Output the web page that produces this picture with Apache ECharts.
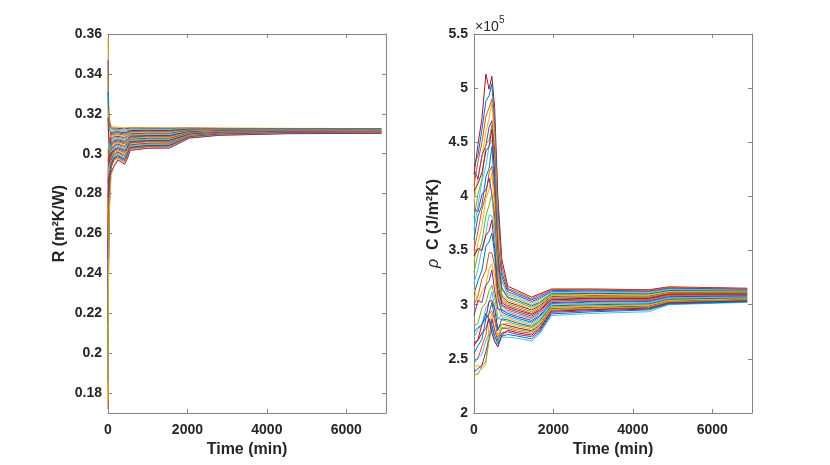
<!DOCTYPE html>
<html>
<head>
<meta charset="utf-8">
<script src="https://cdn.jsdelivr.net/npm/echarts@6/dist/echarts.min.js"></script>
<style>
html,body{margin:0;padding:0;background:#fff;}
#chart{width:830px;height:465px;}
</style>
</head>
<body>
<div id="chart"></div>
<script>
// ---- data ----
const timeR = [0,10,30,80,150,250,420,480,560,1000,1550,2050,2800,4500,6880];
const resistance = [
[0.358,0.330,0.318,0.3136,0.3134,0.3133,0.3130,0.3131,0.3132,0.3131,0.3130,0.3130,0.3128,0.3127,0.3126],
[0.347,0.326,0.316,0.3128,0.3128,0.3127,0.3124,0.3126,0.3128,0.3127,0.3127,0.3128,0.3127,0.3126,0.3125],
[0.339,0.322,0.3145,0.3121,0.3122,0.3122,0.3117,0.3120,0.3124,0.3124,0.3123,0.3126,0.3126,0.3125,0.3124],
[0.312,0.3118,0.3114,0.3113,0.3115,0.3116,0.3111,0.3115,0.3120,0.3120,0.3120,0.3125,0.3124,0.3124,0.3124],
[0.285,0.296,0.304,0.3106,0.3109,0.3110,0.3105,0.3109,0.3116,0.3117,0.3116,0.3123,0.3123,0.3123,0.3123],
[0.331,0.318,0.3125,0.3098,0.3103,0.3105,0.3098,0.3104,0.3112,0.3113,0.3113,0.3121,0.3122,0.3122,0.3122],
[0.262,0.283,0.297,0.3090,0.3097,0.3099,0.3092,0.3098,0.3108,0.3109,0.3109,0.3119,0.3121,0.3121,0.3121],
[0.322,0.314,0.310,0.3083,0.3091,0.3093,0.3086,0.3093,0.3104,0.3106,0.3106,0.3117,0.3119,0.3120,0.3120],
[0.240,0.270,0.290,0.3075,0.3084,0.3087,0.3080,0.3087,0.3100,0.3102,0.3102,0.3116,0.3118,0.3120,0.3119],
[0.300,0.303,0.305,0.3068,0.3078,0.3082,0.3073,0.3082,0.3096,0.3099,0.3098,0.3114,0.3117,0.3119,0.3119],
[0.226,0.262,0.286,0.3060,0.3072,0.3076,0.3067,0.3076,0.3092,0.3095,0.3095,0.3112,0.3116,0.3118,0.3118],
[0.318,0.311,0.307,0.3052,0.3066,0.3070,0.3061,0.3071,0.3088,0.3091,0.3091,0.3110,0.3114,0.3117,0.3117],
[0.205,0.250,0.281,0.3045,0.3060,0.3065,0.3054,0.3065,0.3084,0.3088,0.3088,0.3108,0.3113,0.3116,0.3116],
[0.296,0.300,0.302,0.3037,0.3053,0.3059,0.3048,0.3060,0.3080,0.3084,0.3084,0.3107,0.3112,0.3115,0.3115],
[0.193,0.243,0.278,0.3030,0.3047,0.3053,0.3042,0.3054,0.3076,0.3081,0.3081,0.3105,0.3111,0.3114,0.3114],
[0.273,0.287,0.296,0.3022,0.3041,0.3048,0.3035,0.3049,0.3072,0.3077,0.3077,0.3103,0.3109,0.3113,0.3114],
[0.182,0.237,0.275,0.3014,0.3035,0.3042,0.3029,0.3043,0.3068,0.3073,0.3074,0.3101,0.3108,0.3112,0.3113],
[0.306,0.305,0.303,0.3007,0.3029,0.3036,0.3023,0.3038,0.3064,0.3070,0.3070,0.3099,0.3107,0.3111,0.3112],
[0.215,0.255,0.282,0.2999,0.3022,0.3030,0.3017,0.3032,0.3060,0.3066,0.3067,0.3098,0.3106,0.3110,0.3111],
[0.253,0.276,0.291,0.2992,0.3016,0.3025,0.3010,0.3027,0.3056,0.3063,0.3063,0.3096,0.3104,0.3109,0.3110],
[0.172,0.231,0.272,0.2984,0.3010,0.3019,0.3004,0.3021,0.3052,0.3059,0.3060,0.3094,0.3103,0.3108,0.3109],
[0.268,0.284,0.293,0.2976,0.3004,0.3013,0.2998,0.3016,0.3048,0.3055,0.3056,0.3092,0.3102,0.3107,0.3109],
[0.232,0.264,0.284,0.2969,0.2998,0.3008,0.2991,0.3010,0.3044,0.3052,0.3053,0.3090,0.3101,0.3107,0.3108],
[0.200,0.245,0.276,0.2961,0.2991,0.3002,0.2985,0.3005,0.3040,0.3048,0.3049,0.3089,0.3099,0.3106,0.3107],
[0.290,0.293,0.294,0.2954,0.2985,0.2996,0.2979,0.2999,0.3036,0.3045,0.3046,0.3087,0.3098,0.3105,0.3106],
[0.247,0.272,0.287,0.2946,0.2979,0.2991,0.2972,0.2994,0.3032,0.3041,0.3042,0.3085,0.3097,0.3104,0.3105],
[0.186,0.238,0.272,0.2938,0.2973,0.2985,0.2966,0.2988,0.3028,0.3037,0.3039,0.3083,0.3096,0.3103,0.3104],
[0.258,0.279,0.290,0.2931,0.2966,0.2979,0.2960,0.2983,0.3024,0.3034,0.3035,0.3081,0.3095,0.3102,0.3104],
[0.176,0.232,0.270,0.2890,0.2945,0.2973,0.2954,0.2977,0.3020,0.3030,0.3032,0.3080,0.3093,0.3101,0.3103],
[0.278,0.286,0.289,0.2900,0.2935,0.2968,0.2947,0.2971,0.3016,0.3027,0.3028,0.3078,0.3092,0.3100,0.3102]
];

const timeC = [0,100,200,300,380,450,520,600,700,850,1100,1450,1650,1950,3000,4400,4900,6880];
// rho*C values in units of 1e5 J/(m^2 K)
const heatCapE5 = [
[4.20,4.48,4.72,5.13,4.99,5.11,4.82,4.00,3.42, 3.17,3.13,3.07,3.10,3.145,3.145,3.138,3.165,3.152],
[4.28,4.38,4.62,4.88,4.93,5.04,4.68,3.92,3.30, 3.14,3.10,3.045,3.075,3.13,3.135,3.126,3.154,3.144],
[4.10,4.32,4.50,4.74,4.82,4.90,4.62,3.78,3.36, 3.15,3.115,3.055,3.09,3.14,3.14,3.133,3.16,3.148],
[3.95,4.18,4.36,4.60,4.72,4.86,4.52,3.72,3.22, 3.09,3.055,3.00,3.035,3.105,3.115,3.108,3.137,3.131],
[4.25,4.16,4.38,4.47,4.64,4.70,4.42,3.58,3.26, 3.12,3.085,3.03,3.06,3.12,3.125,3.12,3.148,3.14],
[3.80,4.02,4.16,4.48,4.52,4.66,4.30,3.56,3.14, 3.06,3.025,2.975,3.01,3.09,3.10,3.095,3.126,3.122],
[3.70,3.92,4.14,4.28,4.47,4.52,4.28,3.48,3.22, 3.10,3.07,3.015,3.05,3.115,3.12,3.115,3.143,3.135],
[4.05,4.12,4.22,4.42,4.46,4.62,4.18,3.47,3.08, 3.025,2.995,2.95,2.99,3.075,3.085,3.08,3.114,3.113],
[3.60,3.82,3.92,4.18,4.26,4.46,4.08,3.38,3.16, 3.07,3.04,2.99,3.02,3.10,3.105,3.10,3.131,3.126],
[3.50,3.68,3.88,4.02,4.22,4.28,4.02,3.36,3.04, 2.995,2.965,2.92,2.965,3.06,3.07,3.068,3.103,3.104],
[3.40,3.57,3.72,3.98,4.06,4.22,3.88,3.28,3.10, 3.04,3.01,2.96,3.00,3.085,3.09,3.088,3.12,3.117],
[3.88,3.86,4.02,4.06,4.17,4.02,3.82,3.22,3.00, 2.965,2.935,2.895,2.94,3.045,3.055,3.055,3.091,3.095],
[3.30,3.47,3.58,3.82,3.92,4.02,3.72,3.22,3.06, 3.01,2.98,2.935,2.975,3.07,3.075,3.075,3.108,3.108],
[3.20,3.33,3.52,3.66,3.83,3.82,3.66,3.12,2.96, 2.935,2.905,2.87,2.915,3.03,3.04,3.04,3.08,3.086],
[3.45,3.52,3.50,3.64,3.68,3.78,3.52,3.14,3.02, 2.98,2.95,2.91,2.95,3.05,3.06,3.06,3.097,3.099],
[3.10,3.22,3.32,3.54,3.58,3.66,3.47,3.06,2.93, 2.905,2.875,2.84,2.89,3.01,3.025,3.028,3.068,3.077],
[3.00,3.08,3.24,3.32,3.48,3.48,3.36,3.06,2.99, 2.95,2.92,2.88,2.925,3.035,3.045,3.048,3.086,3.09],
[3.15,3.02,3.12,3.18,3.33,3.38,3.26,2.98,2.89, 2.875,2.845,2.815,2.865,2.995,3.01,3.015,3.057,3.068],
[2.90,3.04,3.02,3.18,3.22,3.32,3.13,2.96,2.95, 2.92,2.89,2.855,2.90,3.02,3.03,3.035,3.074,3.081],
[2.80,2.83,2.97,3.02,3.13,3.18,3.07,2.88,2.86, 2.845,2.815,2.79,2.835,2.98,2.99,3.00,3.046,3.059],
[2.70,2.77,2.82,2.97,3.02,3.12,2.98,2.86,2.91, 2.89,2.86,2.83,2.875,3.005,3.015,3.02,3.063,3.072],
[2.62,2.68,2.82,2.88,3.03,3.04,2.96,2.78,2.82, 2.81,2.785,2.76,2.81,2.965,2.975,2.988,3.034,3.05],
[2.55,2.62,2.68,2.87,2.92,3.02,2.88,2.76,2.87, 2.86,2.83,2.80,2.85,2.99,3.00,3.008,3.051,3.063],
[2.48,2.50,2.62,2.72,2.92,2.94,2.86,2.70,2.78, 2.78,2.755,2.735,2.785,2.95,2.96,2.975,3.023,3.041],
[2.42,2.44,2.41,2.45,2.82,2.92,2.78,2.71,2.82, 2.83,2.80,2.775,2.825,2.975,2.985,2.995,3.04,3.054],
[2.38,2.41,2.44,2.57,2.68,2.87,2.76,2.67,2.74, 2.75,2.725,2.705,2.76,2.93,2.945,2.96,3.011,3.032],
[2.35,2.36,2.43,2.48,2.67,2.78,2.71,2.66,2.79, 2.795,2.77,2.75,2.80,2.96,2.97,2.98,3.028,3.045],
[2.45,2.52,2.54,2.67,2.73,2.80,2.67,2.62,2.70, 2.70,2.69,2.665,2.73,2.90,2.92,2.935,3.00,3.022],
[2.65,2.67,2.74,2.78,2.87,2.74,2.66,2.61,2.72, 2.765,2.74,2.72,2.775,2.94,2.955,2.968,3.017,3.036],
[2.75,2.79,2.81,2.92,2.86,2.81,2.71,2.64,2.71, 2.725,2.71,2.685,2.745,2.915,2.935,2.952,3.006,3.027]
];

const timeTicks = [0,2000,4000,6000];
const rTicks = [0.18,0.2,0.22,0.24,0.26,0.28,0.3,0.32,0.34,0.36];
const cTicks = [2,2.5,3,3.5,4,4.5,5,5.5];
const lineColors = ['#0072BD','#D95319','#EDB120','#7E2F8E','#77AC30','#4DBEEE','#A2142F'];

// ---- chart ----
const FONT = '"Liberation Sans", Arial, Helvetica, sans-serif';
const TXT = '#262626';
const AX = '#858585';

function fmt(v){ return String(+(+v).toFixed(3)); }

function mkX(grid, pos, showLabel){
  return {
    type:'value', gridIndex:grid, position:pos, min:0, max:7000,
    axisLine:{show:true, onZero:false, lineStyle:{color:AX, width:1}},
    axisTick:{show:true, inside:true, length:4, customValues:timeTicks, lineStyle:{color:AX}},
    axisLabel:{show:showLabel, customValues:timeTicks, margin:10, color:TXT, fontFamily:FONT,
               fontWeight:'bold', fontSize:14, formatter:fmt},
    splitLine:{show:false},
    name: showLabel ? 'Time (min)' : '',
    nameLocation:'middle', nameGap:28,
    nameTextStyle:{color:TXT, fontFamily:FONT, fontWeight:'bold', fontSize:16}
  };
}
function mkY(grid, pos, mn, mx, ticks, showLabel, name, gap, rich){
  const ax = {
    type:'value', gridIndex:grid, position:pos, min:mn, max:mx,
    axisLine:{show:true, onZero:false, lineStyle:{color:AX, width:1}},
    axisTick:{show:true, inside:true, length:4, customValues:ticks, lineStyle:{color:AX}},
    axisLabel:{show:showLabel, customValues:ticks, margin:6, color:TXT, fontFamily:FONT,
               fontWeight:'bold', fontSize:14, formatter:fmt},
    splitLine:{show:false}
  };
  if (name){
    ax.name = name; ax.nameLocation='middle'; ax.nameRotate=90; ax.nameGap=gap;
    ax.nameTextStyle = {color:TXT, fontFamily:FONT, fontWeight:'bold', fontSize:16, rich:rich||{}};
  }
  return ax;
}

const series = [];
resistance.forEach((vals, i) => {
  series.push({
    type:'line', xAxisIndex:0, yAxisIndex:0, showSymbol:false, symbol:'none', silent:true,
    lineStyle:{width:1, color:lineColors[(i + 2) % lineColors.length]},
    data: timeR.map((t, k) => [t, vals[k]])
  });
});
heatCapE5.forEach((vals, i) => {
  series.push({
    type:'line', xAxisIndex:2, yAxisIndex:2, showSymbol:false, symbol:'none', silent:true,
    lineStyle:{width:1, color:lineColors[(i + 6) % lineColors.length]},
    data: timeC.map((t, k) => [t, vals[k]])
  });
});

const richRho = {
  r:{fontFamily:FONT, fontStyle:'italic', fontWeight:'normal', fontSize:16, color:TXT},
  b:{fontFamily:FONT, fontWeight:'bold', fontSize:16, color:TXT}
};

const option = {
  animation:false,
  backgroundColor:'#fff',
  grid:[
    {left:108, top:34, width:278, height:379},
    {left:474, top:34, width:278, height:379}
  ],
  xAxis:[ mkX(0,'bottom',true), mkX(0,'top',false), mkX(1,'bottom',true), mkX(1,'top',false) ],
  yAxis:[
    mkY(0,'left',0.17,0.36,rTicks,true,'R (m²K/W)',40),
    mkY(0,'right',0.17,0.36,rTicks,false),
    mkY(1,'left',2,5.5,cTicks,true,'{r|ρ}{b|  C (J/m²K)}',32,richRho),
    mkY(1,'right',2,5.5,cTicks,false)
  ],
  graphic:[
    {type:'text', left:475, top:20, silent:true,
     style:{text:'×10', font:'14px '+FONT, fill:TXT}},
    {type:'text', left:499, top:15, silent:true,
     style:{text:'5', font:'10px '+FONT, fill:TXT}}
  ],
  series: series
};

const chart = echarts.init(document.getElementById('chart'), null, {renderer:'canvas'});
chart.setOption(option);
</script>
</body>
</html>
